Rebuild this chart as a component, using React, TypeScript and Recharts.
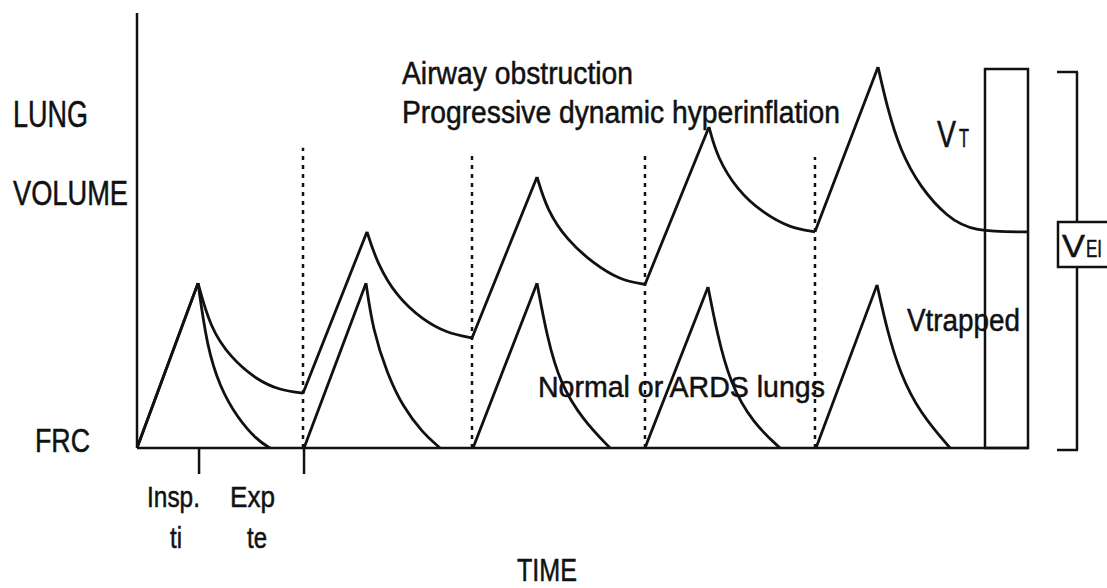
import React from "react";
import { LineChart, Line, XAxis, YAxis, ReferenceLine, ReferenceArea, Customized } from "recharts";

// time in arbitrary units, volume above FRC in arbitrary units (0..100)
type P = [number, number | null];

const hyperRise: P[] = [
  [0, 0], [0.718, 37.9], [1.2, null],
  [1.953, 12.6], [2.706, 49.7], [3.2, null],
  [3.941, 25.3], [4.706, 62.3], [5.2, null],
  [5.976, 37.6], [6.729, 73.8], [7.2, null],
  [7.976, 49.7], [8.718, 87.6],
];

const hyperDecay: P[] = [
  [0.718, 37.9], [0.859, 27.8], [1.094, 20.9], [1.412, 15.6], [1.682, 13.3], [1.953, 12.6], [2.3, null],
  [2.706, 49.7], [2.824, 42.5], [3.059, 34.7], [3.365, 29.4], [3.647, 26.4], [3.941, 25.3], [4.3, null],
  [4.706, 62.3], [4.824, 54.7], [5.059, 47.8], [5.365, 42.5], [5.682, 38.6], [5.976, 37.6], [6.3, null],
  [6.729, 73.8], [6.824, 66.9], [7.059, 59.3], [7.365, 54.0], [7.682, 50.6], [7.976, 49.7], [8.3, null],
  [8.718, 87.6], [8.824, 78.4], [8.976, 68.5], [9.212, 60.0], [9.529, 53.1], [9.835, 49.7], [10.482, 49.7],
];

const normalRise: P[] = [
  [0, 0], [0.718, 37.9], [1.2, null],
  [1.965, 0], [2.694, 37.9], [3.2, null],
  [3.953, 0], [4.706, 37.9], [5.2, null],
  [5.976, 0], [6.718, 37.0], [7.2, null],
  [7.988, 0], [8.706, 37.5],
];

const normalDecay: P[] = [
  [0.718, 37.9], [0.824, 23.2], [0.976, 14.0], [1.176, 7.1], [1.412, 1.8], [1.565, 0], [1.8, null],
  [2.694, 37.9], [2.776, 27.1], [2.941, 17.2], [3.129, 9.4], [3.365, 3.4], [3.565, 0], [3.8, null],
  [4.706, 37.9], [4.824, 25.5], [4.976, 14.9], [5.247, 6.4], [5.565, 0], [5.8, null],
  [6.718, 37.0], [6.824, 26.4], [6.976, 14.9], [7.247, 5.7], [7.565, 0], [7.8, null],
  [8.706, 37.5], [8.824, 27.1], [8.976, 17.2], [9.212, 8.0], [9.565, 0],
];

// breath boundaries (dotted) : [time, top volume]
const breathStarts: [number, number][] = [
  [1.953, 69.0], [3.941, 67.8], [5.976, 67.4], [7.976, 66.9],
];

const inspExpTicks = [0.73, 1.965];
const volumeBar = { x1: 9.976, x2: 10.482, top: 87.1 };
const timeDomain: [number, number] = [0, 10.482];
const volumeDomain: [number, number] = [0, 100];

const toRows = (pts: P[]) => pts.map(([t, v]) => ({ t, v }));

const FONT = '"Liberation Sans", Arial, Helvetica, sans-serif';

const T = (p: { x: number; y: number; w: number; s: number; children: string }) => (
  <text
    x={p.x}
    y={p.y}
    fontSize={p.s}
    fontFamily={FONT}
    fill="#111"
    stroke="#111"
    strokeWidth={0.5}
    textLength={p.w}
    lengthAdjust="spacingAndGlyphs"
  >
    {p.children}
  </text>
);

const Annotations = () => (
  <g>
    <T x={13} y={127} w={75} s={36}>LUNG</T>
    <T x={13} y={205} w={115} s={35}>VOLUME</T>
    <T x={35} y={452} w={55} s={34}>FRC</T>
    <T x={147} y={507} w={53} s={30}>Insp.</T>
    <T x={170} y={548} w={12} s={30}>ti</T>
    <T x={230} y={507} w={45} s={30}>Exp</T>
    <T x={247} y={548} w={20} s={30}>te</T>
    <T x={517} y={581} w={60} s={32}>TIME</T>
    <T x={402} y={84} w={231} s={31}>Airway obstruction</T>
    <T x={402} y={123} w={438} s={31}>Progressive dynamic hyperinflation</T>
    <T x={538} y={397} w={287} s={30}>Normal or ARDS lungs</T>
    <T x={937} y={147} w={19} s={36}>V</T>
    <T x={959} y={147} w={10} s={25}>T</T>
    <T x={907} y={331} w={113} s={31}>Vtrapped</T>
    {/* V_EI bracket */}
    <line x1={1057} y1={72} x2={1078} y2={72} stroke="#111" strokeWidth={2.5} />
    <line x1={1077} y1={72} x2={1077} y2={450} stroke="#111" strokeWidth={2.5} />
    <line x1={1057} y1={450} x2={1078} y2={450} stroke="#111" strokeWidth={2.5} />
    <rect x={1058} y={222} width={80} height={45} fill="#fff" stroke="#111" strokeWidth={2.5} />
    <T x={1062} y={257} w={23} s={32}>V</T>
    <T x={1086} y={257} w={16} s={23}>EI</T>
  </g>
);

export default function App() {
  return (
    <div style={{ position: "absolute", left: 0, top: 0, width: 1107, height: 588, background: "#fff" }}>
      <LineChart width={1107} height={588} margin={{ top: 13, right: 79, bottom: 110, left: 77 }}>
        <XAxis
          type="number"
          dataKey="t"
          domain={timeDomain}
          allowDataOverflow
          ticks={inspExpTicks}
          tickSize={26}
          tickFormatter={() => ""}
          axisLine={{ stroke: "#111", strokeWidth: 2.5 }}
          tickLine={{ stroke: "#111", strokeWidth: 2.5 }}
          height={30}
        />
        <YAxis
          type="number"
          domain={volumeDomain}
          allowDataOverflow
          tick={false}
          tickLine={false}
          axisLine={{ stroke: "#111", strokeWidth: 2.5 }}
          width={60}
        />
        {breathStarts.map(([t, top], i) => (
          <ReferenceLine
            key={i}
            segment={[{ x: t, y: 0 }, { x: t, y: top }]}
            stroke="#111"
            strokeWidth={2.5}
            strokeDasharray="4 5"
          />
        ))}
        <ReferenceArea
          x1={volumeBar.x1}
          x2={volumeBar.x2}
          y1={0}
          y2={volumeBar.top}
          fill="none"
          fillOpacity={0}
          stroke="#111"
          strokeWidth={2.5}
        />
        <Line data={toRows(normalRise)} dataKey="v" type="linear" stroke="#111" strokeWidth={2.8} dot={false} isAnimationActive={false} />
        <Line data={toRows(normalDecay)} dataKey="v" type="basis" stroke="#111" strokeWidth={2.8} dot={false} isAnimationActive={false} />
        <Line data={toRows(hyperRise)} dataKey="v" type="linear" stroke="#111" strokeWidth={2.8} dot={false} isAnimationActive={false} />
        <Line data={toRows(hyperDecay)} dataKey="v" type="basis" stroke="#111" strokeWidth={2.8} dot={false} isAnimationActive={false} />
        <Customized component={Annotations} />
      </LineChart>
    </div>
  );
}
